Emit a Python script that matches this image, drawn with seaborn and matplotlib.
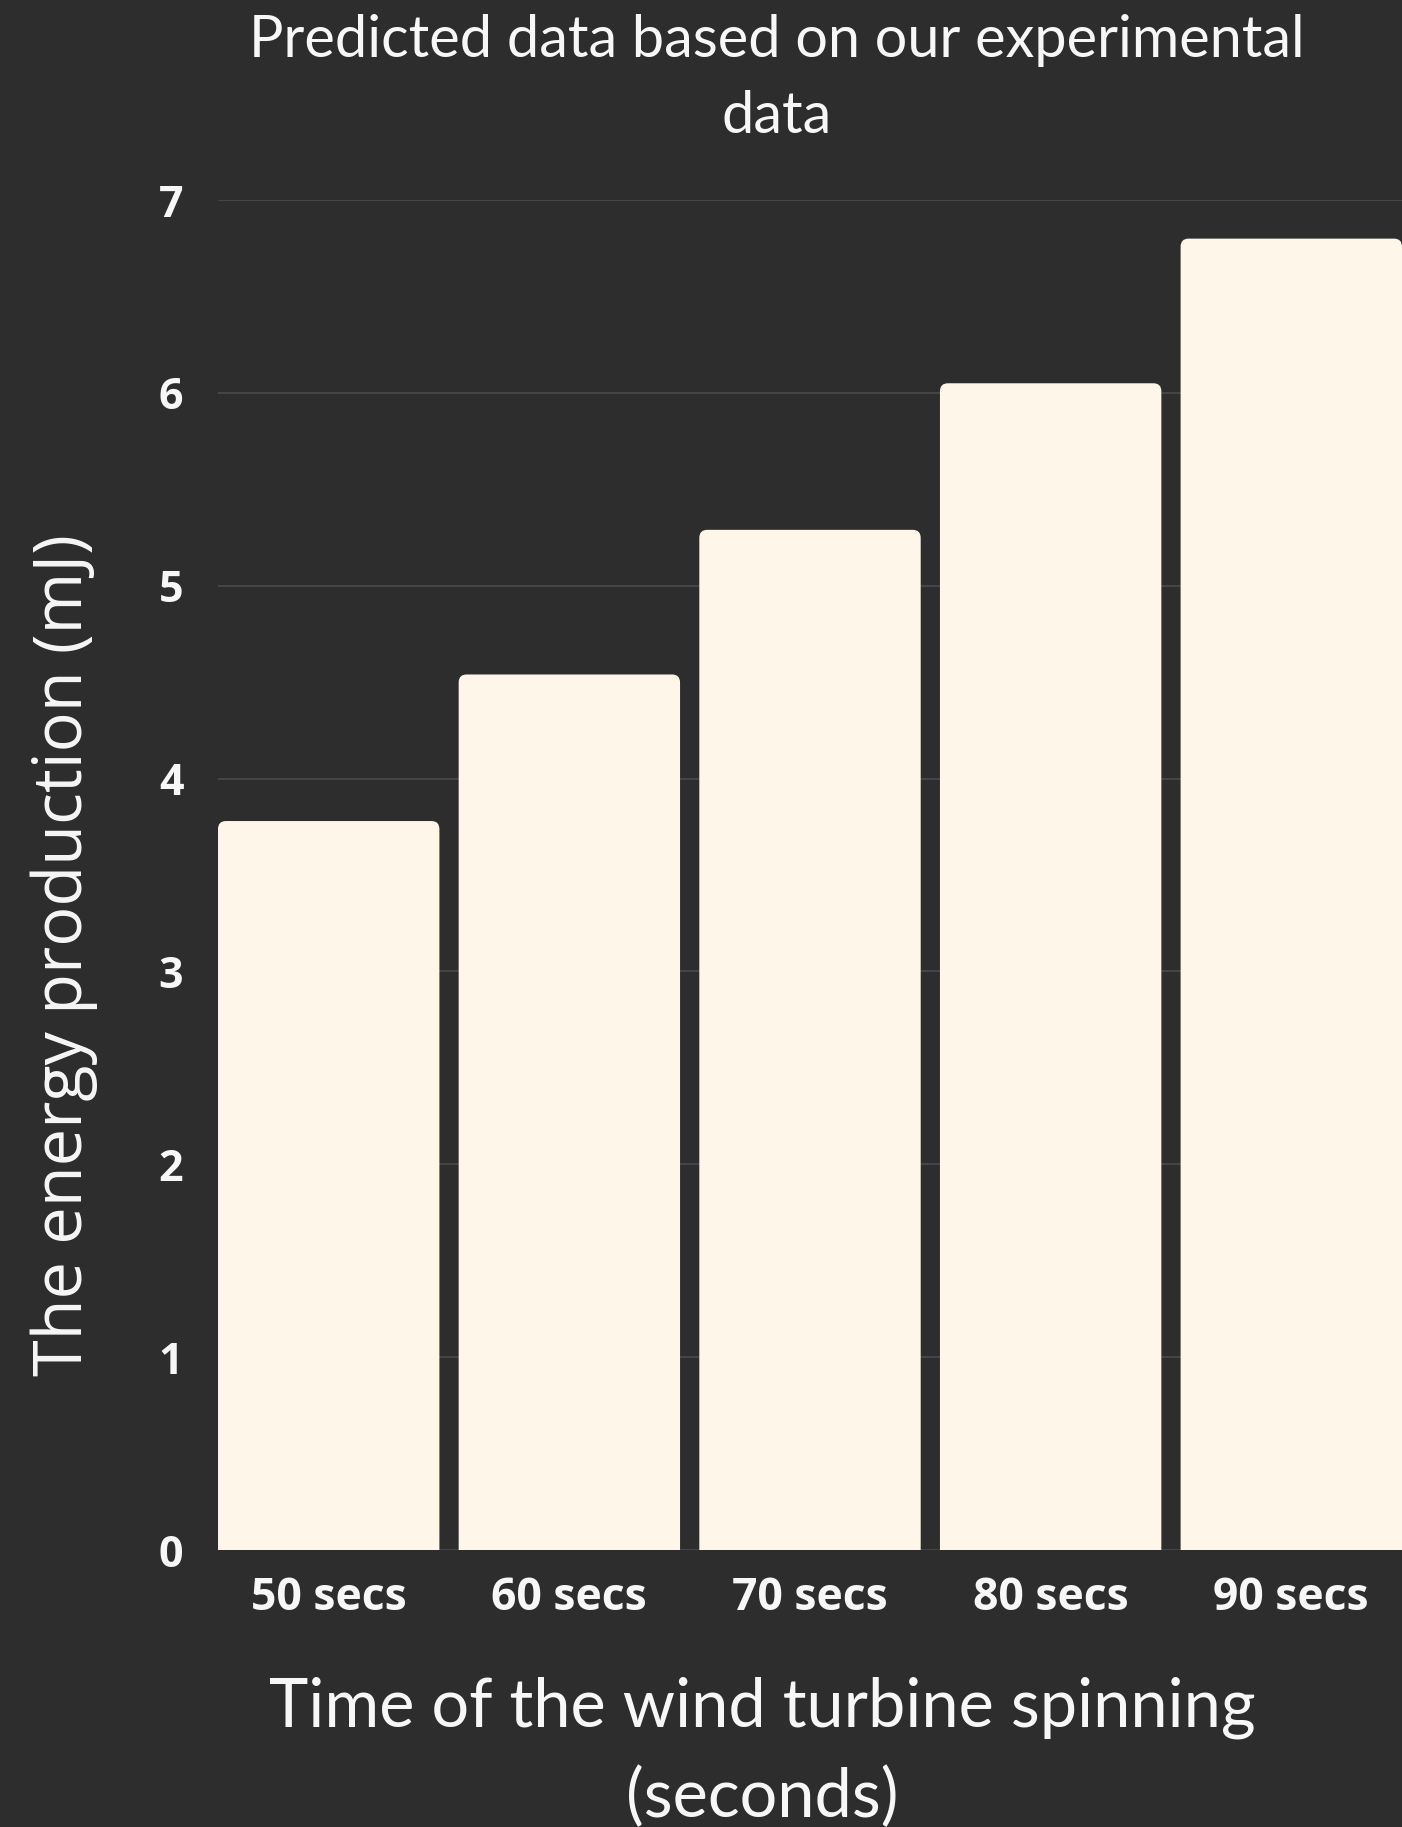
import seaborn as sns
import matplotlib.pyplot as plt
import pandas as pd
from matplotlib.patches import FancyBboxPatch

# values
times = ['50 secs', '60 secs', '70 secs', '80 secs', '90 secs']
energy = [3.78, 4.54, 5.29, 6.05, 6.80]
yticks = [0, 1, 2, 3, 4, 5, 6, 7]

bg = '#2d2d2d'
bar_col = '#fdf6e9'
txt = '#f7f7f7'

sns.set_theme(style='dark')
plt.rcParams['font.family'] = ['Open Sans', 'DejaVu Sans']

df = pd.DataFrame({'time': times, 'energy': energy})

fig = plt.figure(figsize=(14.02, 18.27), dpi=100, facecolor=bg)
ax = fig.add_axes([0.1555, 0.1516, 0.8445, 0.7389])
ax.set_facecolor(bg)

sns.barplot(data=df, x='time', y='energy', color=bar_col, saturation=1,
            width=0.92, ax=ax, zorder=3)

# swap plain bars for ones with rounded top corners
for p in list(ax.patches):
    x, w, h = p.get_x(), p.get_width(), p.get_height()
    p.remove()
    rb = FancyBboxPatch((x, -0.1), w, h + 0.1,
                        boxstyle='round,pad=0,rounding_size=0.033',
                        mutation_aspect=1.25, fc=bar_col, ec='none',
                        zorder=3, clip_on=True)
    ax.add_patch(rb)

ax.set_xlim(-0.46, 4.46)
ax.set_ylim(0, 7)
ax.set_yticks(yticks)
ax.grid(axis='y', color='#4a4a4a', linewidth=1.2, zorder=0)
ax.grid(axis='x', visible=False)
for s in ax.spines.values():
    s.set_visible(False)

ax.tick_params(axis='y', length=0, pad=25, labelsize=31, labelcolor=txt)
ax.tick_params(axis='x', length=0, pad=19, labelsize=32, labelcolor=txt)
for lab in ax.get_xticklabels() + ax.get_yticklabels():
    lab.set_fontweight('bold')

ax.set_xlabel('')
ax.set_ylabel('')

fig.text(0.554, 0.9925, 'Predicted data based on our experimental\ndata',
         ha='center', va='top', color=txt, fontsize=41.5, family='Lato',
         linespacing=1.55)
fig.text(0.544, 0.0825, 'Time of the wind turbine spinning\n(seconds)',
         ha='center', va='top', color=txt, fontsize=48, family='Lato',
         linespacing=1.55)
fig.text(0.046, 0.477, 'The energy production (mJ)', rotation=90,
         ha='center', va='center', color=txt, fontsize=48, family='Open Sans')

fig.savefig('out.png', dpi=100, facecolor=bg)
